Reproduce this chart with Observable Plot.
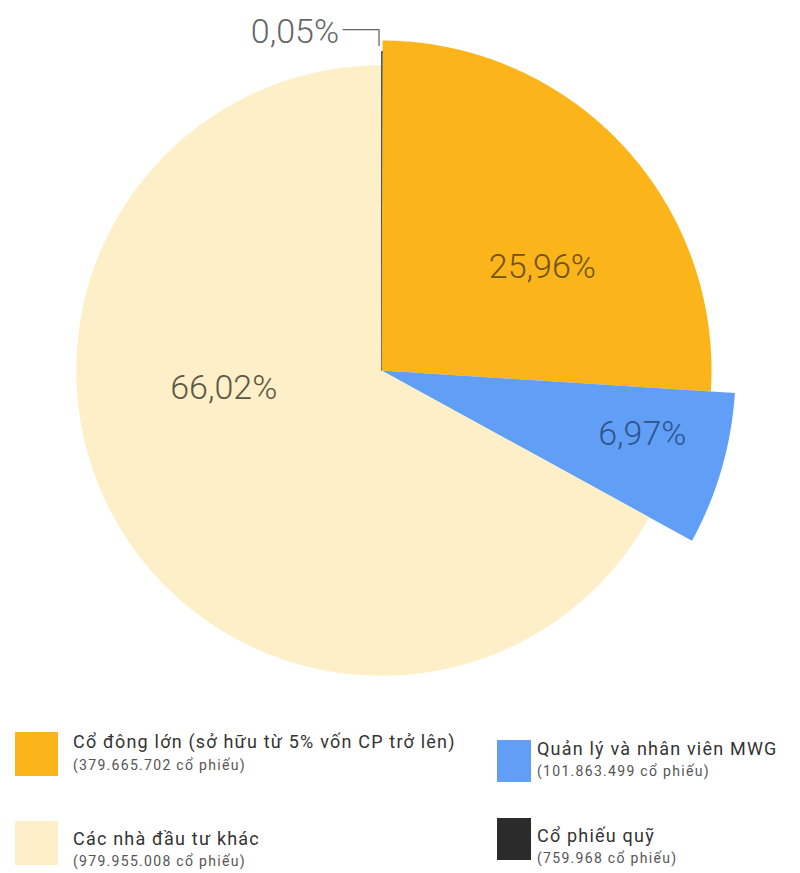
<!DOCTYPE html>
<html>
<head>
<meta charset="utf-8">
<script src="https://cdn.jsdelivr.net/npm/d3@7"></script>
<script src="https://cdn.jsdelivr.net/npm/@observablehq/plot@0.6"></script>
<style>
  html, body { margin: 0; padding: 0; background: #fff; }
  body { width: 800px; height: 873px; position: relative; overflow: hidden; font-family: Roboto, "Noto Sans", sans-serif; }
  #chart { position: absolute; left: 0; top: 0; }
  .sw { position: absolute; }
  .lt { position: absolute; white-space: nowrap; line-height: 1; color: #333; font-size: 18px; letter-spacing: 1.2px; }
  .ls { position: absolute; white-space: nowrap; line-height: 1; color: #555; font-size: 14px; letter-spacing: 1.3px; }
</style>
</head>
<body>
<div id="chart"></div>
<div id="legend"></div>
<script>
// ---- data (clockwise from 12 o'clock) ----
const categories = ["Cổ phiếu quỹ", "Cổ đông lớn (sở hữu từ 5% vốn CP trở lên)", "Quản lý và nhân viên MWG", "Các nhà đầu tư khác"];
const shares = [759968, 379665702, 101863499, 979955008];
const percentLabels = ["0,05%", "25,96%", "6,97%", "66,02%"];
const shareLabels = ["(759.968 cổ phiếu)", "(379.665.702 cổ phiếu)", "(101.863.499 cổ phiếu)", "(979.955.008 cổ phiếu)"];

// ---- styles ----
const colors = ["#2b2b2b", "#fbb51a", "#619ff6", "#fdefc7"];
const labelColors = ["#666666", "#6e5314", "#2f548c", "#5c5746"];
const radiusScale = [0.967, 1.0, 1.073, 0.925];       // relative slice radius
const labelAngleFrac = [0.5, 0.61, 0.40, 0.60];       // position of label within slice span
const labelRadiusFrac = [0, 0.58, 0.758, 0.52];       // label radius relative to slice radius
const drawOrder = [1, 2, 3, 0];

const W = 800, H = 700, cx = 381, cy = 370, K = 330;

const total = d3.sum(shares);
let acc = 0;
const slices = shares.map((v, i) => {
  const a0 = acc / total * 2 * Math.PI;
  acc += v;
  const a1 = acc / total * 2 * Math.PI;
  const r = radiusScale[i];
  const n = Math.max(2, Math.ceil((a1 - a0) / (Math.PI / 360)));
  const pts = [{x: 0, y: 0}];
  for (let k = 0; k <= n; k++) {
    const a = a0 + (a1 - a0) * k / n;
    pts.push({x: r * Math.sin(a), y: r * Math.cos(a)});
  }
  const la = a0 + (a1 - a0) * labelAngleFrac[i];
  const lr = r * labelRadiusFrac[i];
  return {i, a0, a1, r, pts, lx: lr * Math.sin(la), ly: lr * Math.cos(la), label: percentLabels[i]};
});

const marks = drawOrder.map(i => slices[i]).map(s => Plot.line(s.pts, {
  x: "x", y: "y", fill: colors[s.i],
  stroke: s.i === 0 ? colors[0] : "none", strokeWidth: s.i === 0 ? 0.6 : 0, curve: "linear"
}));

// inside labels
marks.push(Plot.text(slices.filter(s => s.i !== 0), {
  x: "lx", y: "ly", text: "label",
  fill: d => labelColors[d.i], fontSize: 34, fontWeight: 300, textAnchor: "middle"
}));

// outside label for tiny slice with leader line
const tiny = slices[0];
const am = (tiny.a0 + tiny.a1) / 2;
const tipR = tiny.r + 0.018, elbowR = tiny.r + 0.066, horiz = 36 / K;
const tip = {x: tipR * Math.sin(am) - 3 / K, y: tipR * Math.cos(am)};
const elbow = {x: tip.x, y: elbowR * Math.cos(am)};
const leaderEnd = {x: tip.x - horiz, y: elbow.y};
marks.push(Plot.line([tip, elbow, leaderEnd], {x: "x", y: "y", stroke: "#666", strokeWidth: 1.3}));
marks.push(Plot.text([{x: leaderEnd.x - 4 / K, y: leaderEnd.y, label: tiny.label}], {
  x: "x", y: "y", text: "label", textAnchor: "end", fill: labelColors[0], fontSize: 34, fontWeight: 300, dy: 2
}));

const chart = Plot.plot({
  width: W, height: H,
  margin: 0,
  x: {domain: [-cx / K, (W - cx) / K], range: [0, W], axis: null},
  y: {domain: [-(H - cy) / K, cy / K], range: [H, 0], axis: null},
  style: {fontFamily: "Roboto, 'Noto Sans', sans-serif", background: "transparent"},
  marks
});
document.getElementById("chart").appendChild(chart);

// ---- legend (below the plot) ----
const legendOrder = [1, 2, 3, 0];
const legendPos = [
  {sx: 15, sy: 732, sw: 43, sh: 44, tx: 73, tb: 748, sb: 770},
  {sx: 497, sy: 740, sw: 34, sh: 42, tx: 537, tb: 755, sb: 776},
  {sx: 15, sy: 821, sw: 43, sh: 44, tx: 73, tb: 845, sb: 866},
  {sx: 497, sy: 818, sw: 34, sh: 42, tx: 537, tb: 842, sb: 863}
];
const leg = document.getElementById("legend");
legendOrder.forEach((ci, k) => {
  const p = legendPos[k];
  const sw = document.createElement("div");
  sw.className = "sw";
  Object.assign(sw.style, {left: p.sx + "px", top: p.sy + "px", width: p.sw + "px", height: p.sh + "px", background: colors[ci]});
  leg.appendChild(sw);
  const t = document.createElement("div");
  t.className = "lt";
  t.textContent = categories[ci];
  Object.assign(t.style, {left: p.tx + "px", top: (p.tb - 15) + "px"});
  leg.appendChild(t);
  const s = document.createElement("div");
  s.className = "ls";
  s.textContent = shareLabels[ci];
  Object.assign(s.style, {left: p.tx + "px", top: (p.sb - 12) + "px"});
  leg.appendChild(s);
});
</script>
</body>
</html>
